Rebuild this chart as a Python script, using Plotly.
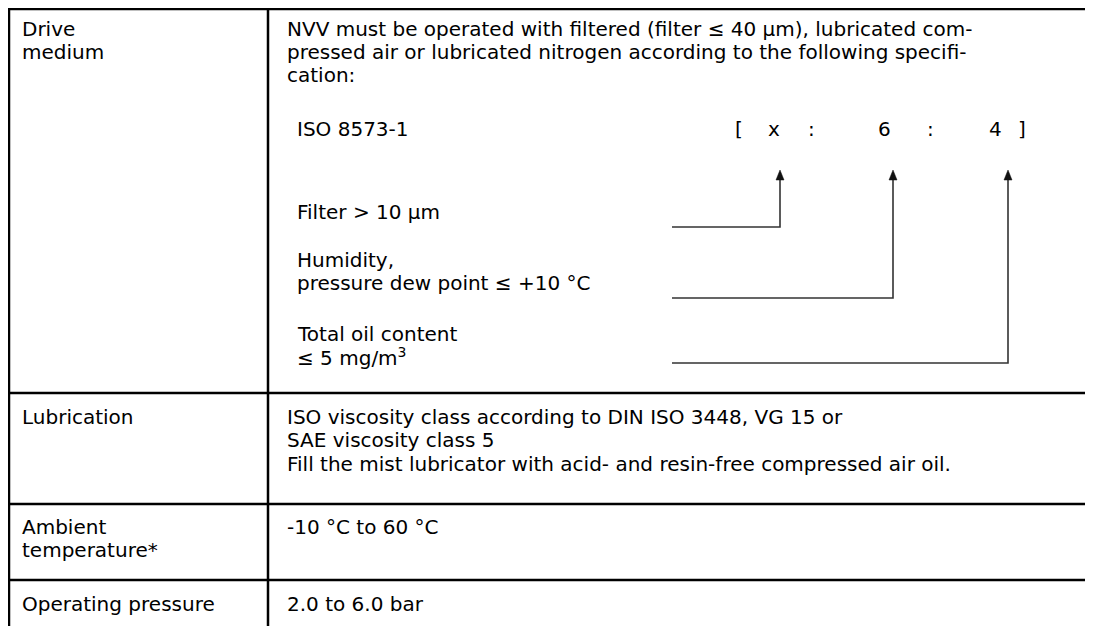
import plotly.graph_objects as go

W, H = 1093, 626
OFF = 8  # default page margin of the browser body

# ---- content ----
row_labels = [["Drive", "medium"], ["Lubrication"], ["Ambient", "temperature*"], ["Operating pressure"]]
row_texts = [
    ["NVV must be operated with filtered (filter ≤ 40 µm), lubricated com-",
     "pressed air or lubricated nitrogen according to the following specifi-",
     "cation:"],
    ["ISO viscosity class according to DIN ISO 3448, VG 15 or",
     "SAE viscosity class 5",
     "Fill the mist lubricator with acid- and resin-free compressed air oil."],
    ["-10 °C to 60 °C"],
    ["2.0 to 6.0 bar"],
]
spec_title = "ISO 8573-1"
spec_code = ["[", "x", ":", "6", ":", "4", "]"]
spec_items = [["Filter > 10 µm"],
              ["Humidity,", "pressure dew point ≤ +10 °C"],
              ["Total oil content", "≤ 5 mg/m<sup>3</sup>"]]

# ---- layout geometry (pixels in the reference picture) ----
row_tops = [9, 393, 504, 580]
x_left, x_div = 9, 268
col1_x, col2_x = 21, 286
line_h = 23.3
first_y = [28.5, 417, 527, 604]
spec_x = 296
spec_title_y = 129
code_x = [739, 774, 811, 884, 930, 995, 1022]
code_y = 129
item_y = [[212], [260, 283.3], [334, 357.3]]
conn_y = [227, 298, 363]
conn_x0 = 672
arrow_x = [780, 893, 1008]
arrow_tip = 170

FONT = dict(family="DejaVu Sans, Liberation Sans, Arial, sans-serif", size=20, color="black")

fig = go.Figure()
shapes = []
ann = []

# table borders
for y in row_tops:
    shapes.append(dict(type="line", x0=x_left - 1, x1=W + 5, y0=y, y1=y,
                       line=dict(color="black", width=2.5)))
for x in (x_left, x_div):
    shapes.append(dict(type="line", x0=x, x1=x, y0=row_tops[0], y1=H + 5,
                       line=dict(color="black", width=2.5)))

def text(x, y, s):
    ann.append(dict(x=x, y=y, text=s, showarrow=False, xanchor="left", yanchor="middle",
                    font=FONT, xref="x", yref="y", borderpad=0))

for i, (lab, txt) in enumerate(zip(row_labels, row_texts)):
    base = first_y[i]
    for j, s in enumerate(lab):
        text(col1_x, base + j * line_h, s)
    for j, s in enumerate(txt):
        text(col2_x, base + j * line_h, s)

text(spec_x, spec_title_y, spec_title)
for cx, c in zip(code_x, spec_code):
    ann.append(dict(x=cx, y=code_y, text=c, showarrow=False, xanchor="center", yanchor="middle",
                    font=FONT, xref="x", yref="y", borderpad=0))
for ys, item in zip(item_y, spec_items):
    for y, s in zip(ys, item):
        text(spec_x, y, s)

# connector lines with arrowheads
for cy, ax in zip(conn_y, arrow_x):
    shapes.append(dict(type="path", path=f"M {conn_x0},{cy} L {ax},{cy} L {ax},{arrow_tip + 8}",
                       line=dict(color="#333333", width=1.6)))
    shapes.append(dict(type="path",
                       path=f"M {ax},{arrow_tip} L {ax - 4},{arrow_tip + 10} L {ax + 4},{arrow_tip + 10} Z",
                       fillcolor="#111111", line=dict(color="#111111", width=0.5)))

fig.update_layout(
    width=W - OFF, height=H - OFF, margin=dict(l=0, r=0, t=0, b=0),
    paper_bgcolor="white", plot_bgcolor="white",
    xaxis=dict(range=[OFF, W], visible=False, fixedrange=True),
    yaxis=dict(range=[H, OFF], visible=False, fixedrange=True),
    shapes=shapes, annotations=ann, showlegend=False,
)
fig.write_html("out.html", config={"displayModeBar": False})
